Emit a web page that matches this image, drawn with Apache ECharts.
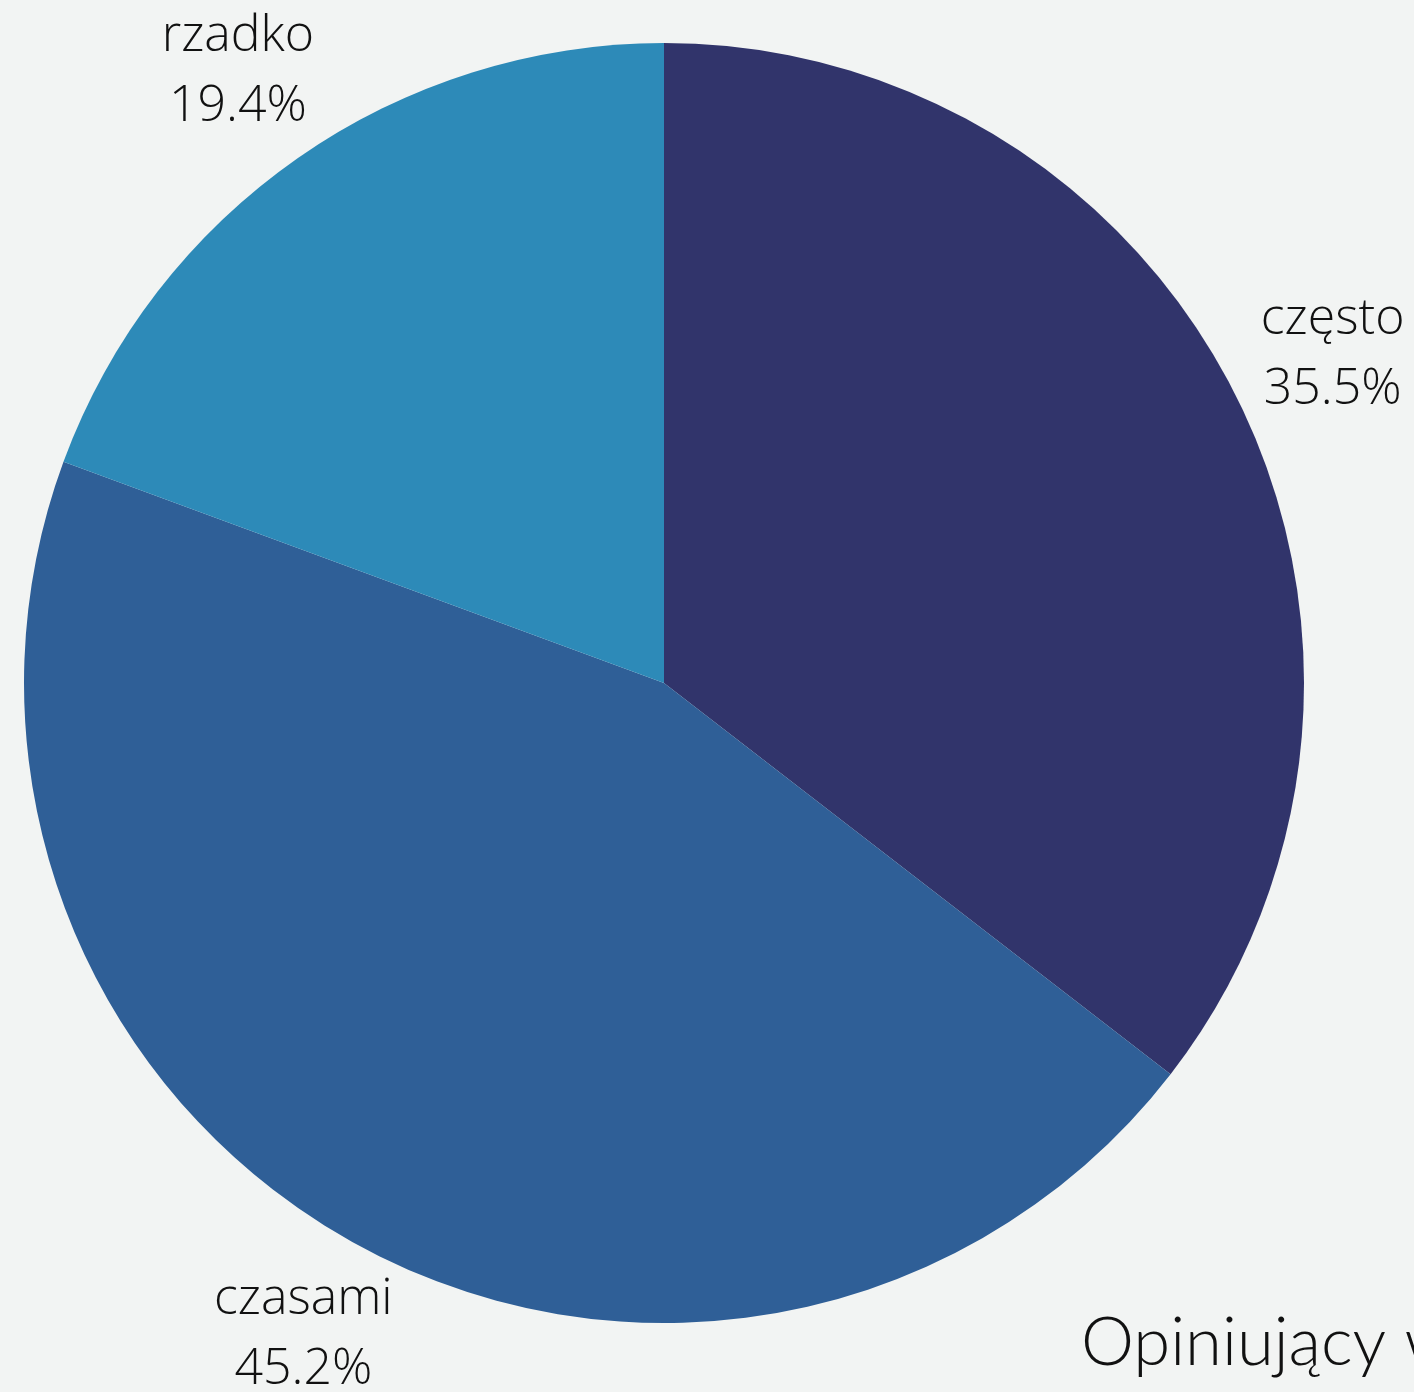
<!DOCTYPE html>
<html>
<head>
<meta charset="utf-8">
<script src="https://cdn.jsdelivr.net/npm/echarts@6/dist/echarts.min.js"></script>
<style>
  html, body { margin: 0; padding: 0; background: #f2f4f3; }
  #chart { width: 1414px; height: 1392px; }
</style>
</head>
<body>
<div id="chart"></div>
<script>
var categories = ['często', 'czasami', 'rzadko'];
var shares = [35.5, 45.2, 19.4];
var colors = ['#31346b', '#2f5f97', '#2d8ab8'];
var titleText = 'Opiniujący według';

var chart = echarts.init(document.getElementById('chart'));

var pieData = categories.map(function (name, i) {
  return { name: name, value: shares[i], itemStyle: { color: colors[i] } };
});

var option = {
  backgroundColor: '#f2f4f3',
  animation: false,
  title: {
    text: titleText,
    left: 1076,
    top: 1305,
    textStyle: {
      fontFamily: 'Lato',
      fontWeight: 300,
      fontSize: 67,
      color: '#111'
    }
  },
  series: [
    {
      // the pie itself
      type: 'pie',
      center: [664, 683],
      radius: [0, 640],
      startAngle: 90,
      clockwise: true,
      silent: true,
      label: { show: false },
      labelLine: { show: false },
      itemStyle: { borderWidth: 0 },
      data: pieData
    },
    {
      // transparent wider pie, only for label placement on the mid angle
      type: 'pie',
      center: [664, 683],
      radius: [0, 1484],
      startAngle: 90,
      clockwise: true,
      silent: true,
      z: 3,
      itemStyle: { color: 'rgba(0,0,0,0)', borderWidth: 0 },
      labelLine: { show: false },
      label: {
        show: true,
        position: 'inside',
        formatter: '{b}\n{c}%',
        fontFamily: 'Open Sans',
        fontWeight: 300,
        fontSize: 50,
        lineHeight: 70,
        color: '#111'
      },
      data: categories.map(function (name, i) {
        return { name: name, value: shares[i] };
      })
    }
  ]
};

chart.setOption(option);
window.onresize = function () { chart.resize(); };
</script>
</body>
</html>
